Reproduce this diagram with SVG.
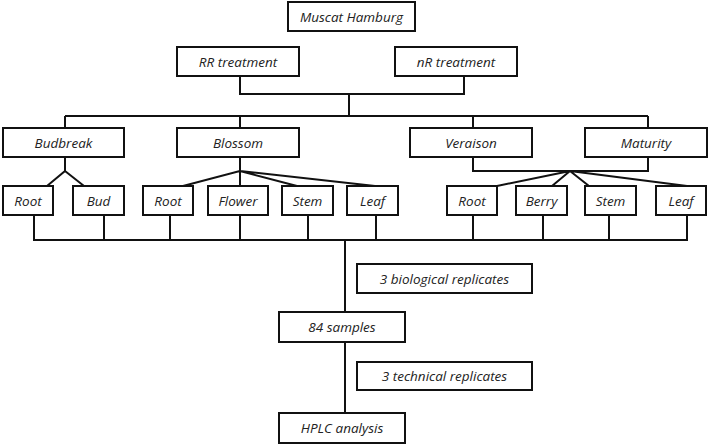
<svg xmlns="http://www.w3.org/2000/svg" width="709" height="445" viewBox="0 0 709 445">
<style>
rect{fill:#fff;stroke:#111;stroke-width:2}
text{font-family:"Open Sans","Liberation Sans",sans-serif;font-style:italic;font-size:13.5px;fill:#222;text-anchor:middle;dominant-baseline:central}
#connectors path{fill:none;stroke:#111;stroke-width:2}
</style>
<rect x="0" y="0" width="709" height="445" style="stroke:none"/>
<g id="connectors">
<path d="M240 76V94H464V76M349 94V116M65 116H648M65 116V128M240 116V128M473 116V128M648 116V128"/>
<path d="M65 157V171L47 186M65 171L84 186"/>
<path d="M240 157V171L183 186M240 171V186M240 171L297 186M240 171L375 186"/>
<path d="M473 157V171H648V157M570 171L497 186M570 171L552 186M570 171L589 186M570 171L687 186"/>
<path d="M34 215V240H687V215M104 215V240M170 215V240M240 215V240M308 215V240M376 215V240M473 215V240M543 215V240M609 215V240"/>
<path d="M345 240V312M345 342V413"/>
</g>
<g id="muscat"><rect x="288" y="2" width="127" height="29"/><text x="351.5" y="16.5">Muscat Hamburg</text></g>
<g id="rr"><rect x="177" y="47" width="122" height="29"/><text x="238" y="61.5">RR treatment</text></g>
<g id="nr"><rect x="395" y="47" width="122" height="29"/><text x="456" y="61.5">nR treatment</text></g>
<g id="budbreak"><rect x="3" y="128" width="121" height="29"/><text x="63.5" y="142.5">Budbreak</text></g>
<g id="blossom"><rect x="177" y="128" width="122" height="29"/><text x="238" y="142.5">Blossom</text></g>
<g id="veraison"><rect x="410" y="128" width="122" height="29"/><text x="471" y="142.5">Veraison</text></g>
<g id="maturity"><rect x="585" y="128" width="122" height="29"/><text x="646" y="142.5">Maturity</text></g>
<g id="root1"><rect x="3" y="186" width="50" height="29"/><text x="28" y="200.5">Root</text></g>
<g id="bud"><rect x="73" y="186" width="51" height="29"/><text x="98.5" y="200.5">Bud</text></g>
<g id="root2"><rect x="143" y="186" width="50" height="29"/><text x="168" y="200.5">Root</text></g>
<g id="flower"><rect x="208" y="186" width="60" height="29"/><text x="238" y="200.5">Flower</text></g>
<g id="stem1"><rect x="282" y="186" width="51" height="29"/><text x="307.5" y="200.5">Stem</text></g>
<g id="leaf1"><rect x="347" y="186" width="51" height="29"/><text x="372.5" y="200.5">Leaf</text></g>
<g id="root3"><rect x="447" y="186" width="50" height="29"/><text x="472" y="200.5">Root</text></g>
<g id="berry"><rect x="516" y="186" width="51" height="29"/><text x="541.5" y="200.5">Berry</text></g>
<g id="stem2"><rect x="585" y="186" width="51" height="29"/><text x="610.5" y="200.5">Stem</text></g>
<g id="leaf2"><rect x="656" y="186" width="50" height="29"/><text x="681" y="200.5">Leaf</text></g>
<g id="bio"><rect x="357" y="264" width="175" height="29"/><text x="444.5" y="278.5">3 biological replicates</text></g>
<g id="samples"><rect x="279" y="312" width="126" height="30"/><text x="342" y="327">84 samples</text></g>
<g id="tech"><rect x="357" y="362" width="175" height="28"/><text x="444.5" y="376">3 technical replicates</text></g>
<g id="hplc"><rect x="279" y="413" width="126" height="30"/><text x="342" y="428">HPLC analysis</text></g>
</svg>
